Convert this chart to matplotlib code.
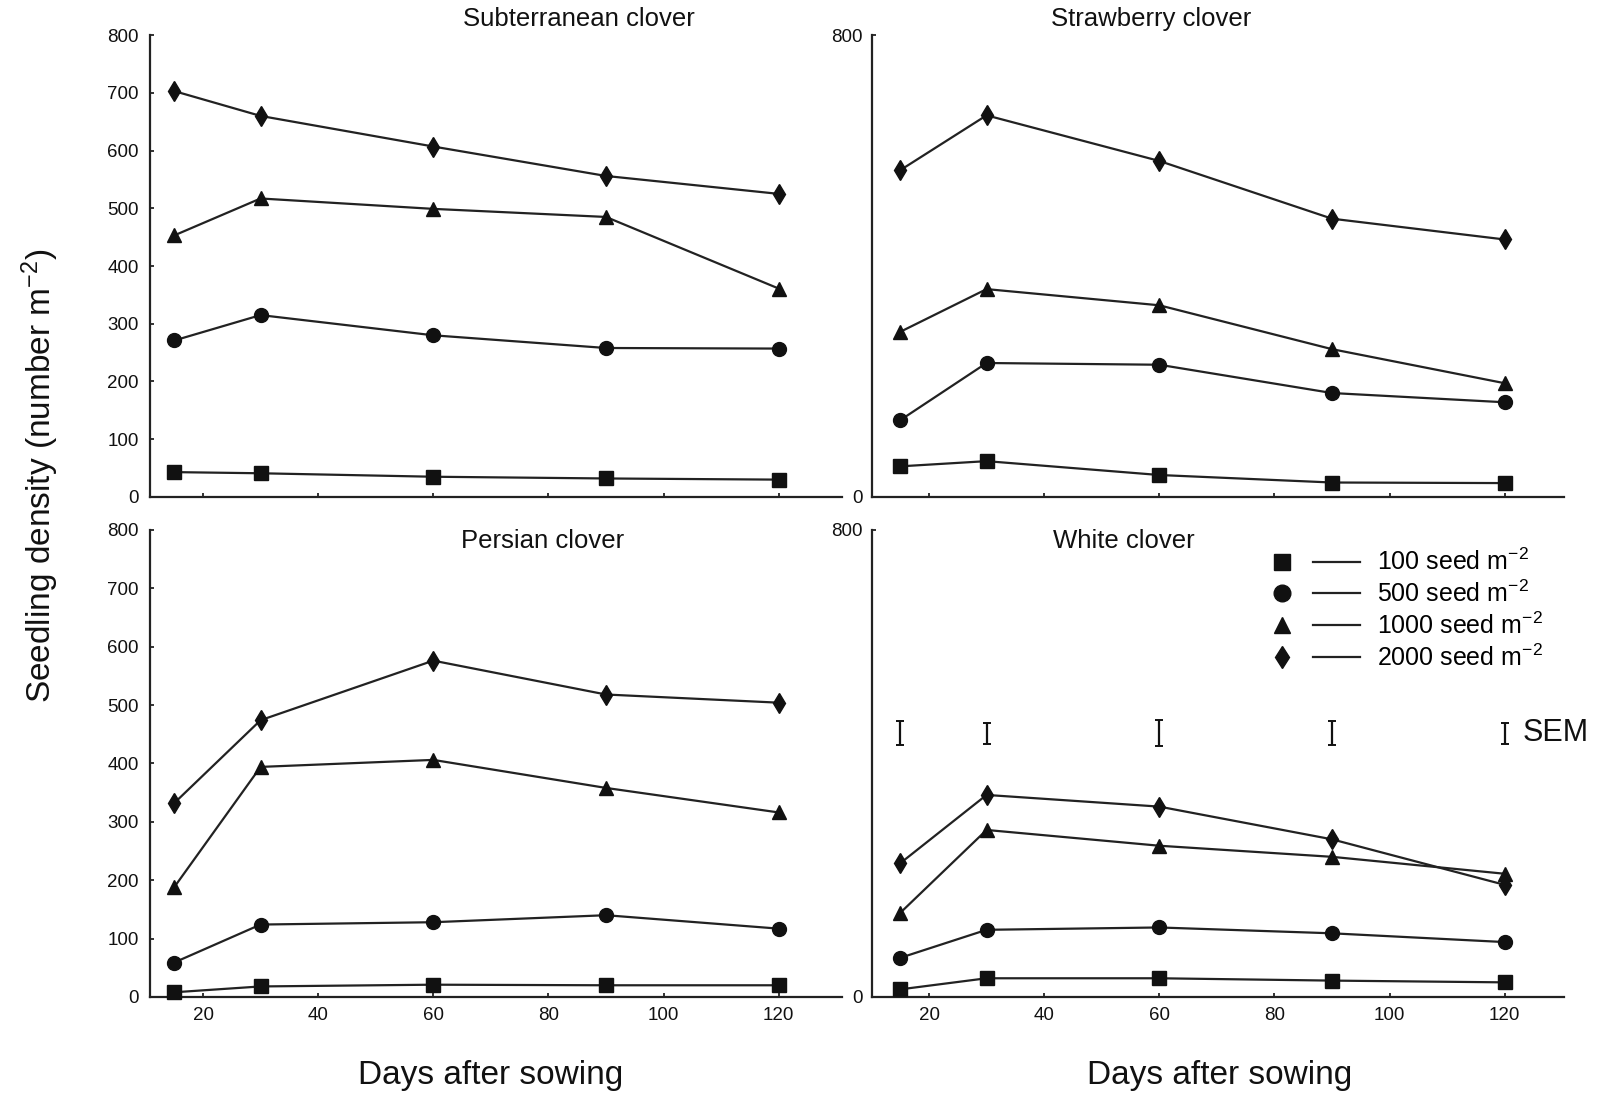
import matplotlib
matplotlib.use("Agg")
import matplotlib.pyplot as plt
from matplotlib.lines import Line2D
from matplotlib.legend_handler import HandlerTuple

plt.rcParams['font.family'] = ['Liberation Sans', 'DejaVu Sans']
plt.rcParams['mathtext.fontset'] = 'custom'
plt.rcParams['mathtext.rm'] = 'Liberation Sans'
plt.rcParams['mathtext.it'] = 'Liberation Sans:italic'

# Sampling days after sowing
days = [15, 30, 60, 90, 120]

# Seedling density (number m-2); rows: 100, 500, 1000, 2000 seed m-2
subterranean = [
    [43, 41, 35, 32, 30],
    [271, 315, 280, 258, 257],
    [453, 517, 499, 485, 361],
    [703, 660, 607, 556, 525],
]
strawberry = [
    [53, 62, 38, 25, 24],
    [133, 232, 229, 180, 164],
    [286, 360, 332, 256, 197],
    [566, 661, 582, 482, 446],
]
persian = [
    [8, 18, 21, 20, 20],
    [59, 124, 128, 140, 117],
    [188, 394, 406, 358, 316],
    [332, 474, 576, 518, 504],
]
white = [
    [13, 32, 32, 28, 25],
    [67, 115, 119, 109, 94],
    [144, 286, 259, 240, 211],
    [229, 346, 326, 270, 192],
]

# Standard error of the mean at each sampling date
sem_days = [15, 30, 60, 90, 120]
sem_values = [20, 18, 23, 21, 18]
sem_level = 452

sowing_rates = ["100", "500", "1000", "2000"]
species_titles = ["Subterranean clover", "Strawberry clover", "Persian clover", "White clover"]

markers = ['s', 'o', '^', 'd']
msizes = [10, 10, 10, 10.5]
LINE = '#222222'
INK = '#111111'

fig = plt.figure(figsize=(15.98, 10.97), dpi=100)

W = 0.433
ax_sub = fig.add_axes([0.0939, 0.547, W, 0.421])
ax_str = fig.add_axes([0.5457, 0.547, W, 0.421])
ax_per = fig.add_axes([0.0939, 0.0912, W, 0.4258])
ax_whi = fig.add_axes([0.5457, 0.0912, W, 0.4258])

panels = [
    (ax_sub, subterranean, (10.8, 131.0), (85.3, 828), True, False),
    (ax_str, strawberry, (10.1, 130.3), (58.5, 828), False, False),
    (ax_per, persian, (10.8, 131.0), (78.9, 781), True, True),
    (ax_whi, white, (10.1, 130.3), (53.9, 781), False, True),
]

for (ax, data, xlim, tpos, full_y, show_x), title in zip(panels, species_titles):
    for series, mk, ms in zip(data, markers, msizes):
        ax.plot(days, series, color=LINE, lw=1.6, marker=mk, ms=ms,
                mfc=INK, mec=INK, clip_on=False, zorder=3)
    ax.set_xlim(*xlim)
    ax.set_ylim(0, 800)
    for s in ['top', 'right']:
        ax.spines[s].set_visible(False)
    for s in ['left', 'bottom']:
        ax.spines[s].set_linewidth(1.6)
        ax.spines[s].set_color(LINE)
    ax.set_xticks([20, 40, 60, 80, 100, 120])
    if full_y:
        ax.set_yticks(range(0, 801, 100))
        ax.tick_params(axis='y', pad=8)
    else:
        ax.set_yticks([0, 800])
        ax.tick_params(axis='y', pad=7)
    ax.tick_params(direction='in', length=3, width=1.2, labelsize=13.5, colors=INK)
    ax.tick_params(axis='x', pad=7, labelbottom=show_x)
    ax.text(tpos[0], tpos[1], title, ha='center', va='center', fontsize=18.5,
            color=INK, clip_on=False)

# SEM bars in the white clover panel
ax_whi.errorbar(sem_days, [sem_level] * len(sem_days), yerr=sem_values, fmt='none',
                ecolor=INK, elinewidth=1.6, capsize=3, capthick=1.4)
ax_whi.text(123.2, sem_level, "SEM", ha='left', va='center', fontsize=22, color=INK)

# Legend: marker, then a line segment, then the sowing rate
handles = []
for mk in markers:
    size = 12 if mk != 'd' else 11.5
    h_marker = Line2D([], [], ls='none', marker=mk, ms=size, mfc=INK, mec=INK)
    h_line = Line2D([], [], color=LINE, lw=1.6)
    handles.append((h_marker, h_line))
labels = [f"{r} seed m$^{{-2}}$" for r in sowing_rates]
fig.legend(handles, labels, handler_map={tuple: HandlerTuple(ndivide=None, pad=0.3)},
           loc='upper left', bbox_to_anchor=(0.7876, 0.4996), frameon=False,
           fontsize=18, handlelength=4.06, handletextpad=0.68, labelspacing=0.22,
           borderpad=0, borderaxespad=0)

fig.text(0.0254, 0.566, "Seedling density (number m$^{-2}$)", rotation=90,
         ha='center', va='center', fontsize=24, color=INK)
fig.text(0.307, 0.020, "Days after sowing", ha='center', va='center', fontsize=24, color=INK)
fig.text(0.763, 0.020, "Days after sowing", ha='center', va='center', fontsize=24, color=INK)

fig.savefig("out.png", dpi=100, facecolor='white')
